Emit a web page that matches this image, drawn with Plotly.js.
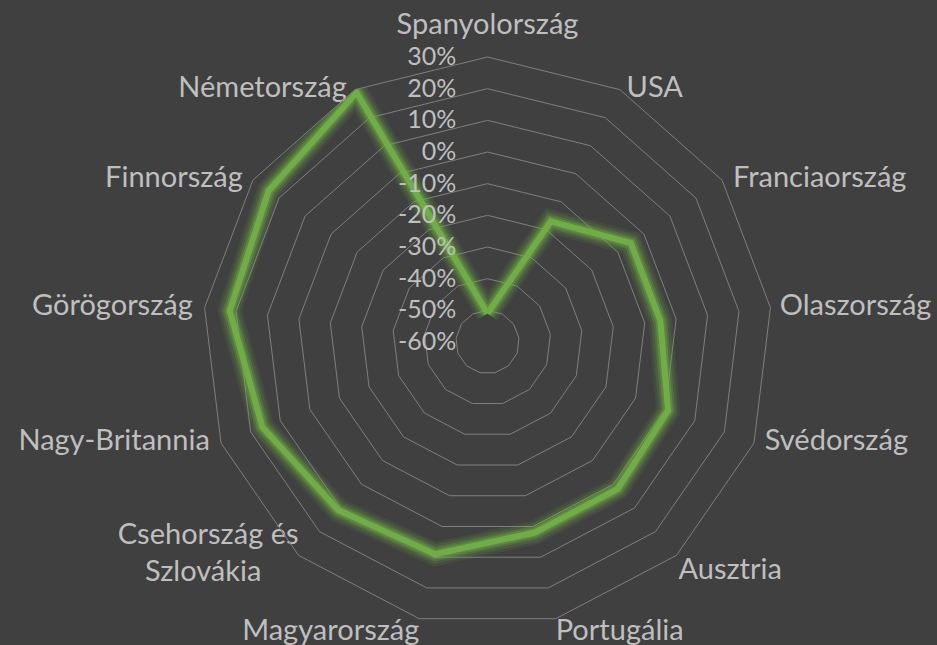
<!DOCTYPE html>
<html>
<head>
<meta charset="utf-8">
<script src="https://cdn.plot.ly/plotly-3.0.1.min.js"></script>
<style>
html,body{margin:0;padding:0;background:#404040;}
#chart{width:937px;height:645px;}
</style>
</head>
<body>
<div id="chart"></div>
<script>
// ---- data ----
const categories = ["Spanyolország","USA","Franciaország","Olaszország","Svédország","Ausztria","Portugália","Magyarország","Csehország és Szlovákia","Nagy-Britannia","Görögország","Finnország","Németország"];
const categoryLabels = ["Spanyolország","USA","Franciaország","Olaszország","Svédország","Ausztria","Portugália","Magyarország","Csehország és<br>Szlovákia\u00a0\u00a0\u00a0\u00a0\u00a0","Nagy-Britannia","Görögország","Finnország","Németország"];
const values = [-0.51,-0.17,-0.05,-0.05,0.01,0.02,0.02,0.09,0.11,0.16,0.22,0.24,0.29];
const radialTicks = [-0.6,-0.5,-0.4,-0.3,-0.2,-0.1,0,0.1,0.2,0.3];
const radialTickLabels = ["-60%","-50%","-40%","-30%","-20%","-10%","0%","10%","20%","30%"];
const rMin = -0.6, rMax = 0.3;

// ---- label placement styling (per category) ----
const labelPos = ['top center','middle right','middle right','middle right','middle right','bottom right','bottom right','bottom left','middle left','middle left','middle left','middle left','middle left'];
const labelGap = [23,9,16,13.4,15.7,1.6,0,0,0,16.3,17.3,14.6,11.7];

const theta = categories.concat([categories[0]]);
const r = values.concat([values[0]]);

const glowLayers = [
  {w:24, c:'rgba(112,173,71,0.10)'},
  {w:19, c:'rgba(112,173,71,0.16)'},
  {w:14, c:'rgba(112,173,71,0.26)'},
  {w:10, c:'rgba(112,173,71,0.38)'}
];
const traces = glowLayers.map(g => ({
  type:'scatterpolar', r:r, theta:theta, mode:'lines',
  line:{color:g.c, width:g.w}, hoverinfo:'skip', showlegend:false
}));
traces.push({
  type:'scatterpolar', r:r, theta:theta, mode:'lines',
  line:{color:'#70ad47', width:6}, showlegend:false
});
// category labels anchored at the outer ring
traces.push({
  type:'scatterpolar', r:categories.map(() => rMax), theta:categories,
  mode:'markers+text', text:categoryLabels, textposition:labelPos,
  marker:{size:labelGap, color:'rgba(0,0,0,0)', line:{width:0}},
  textfont:{family:'Lato, "Open Sans", sans-serif', size:29, color:'#bfbfbf'},
  cliponaxis:false, hoverinfo:'skip', showlegend:false
});

const layout = {
  width:937, height:645,
  paper_bgcolor:'#404040', plot_bgcolor:'#404040',
  margin:{l:38, r:0, t:57, b:18},
  showlegend:false,
  polar:{
    bgcolor:'#404040',
    gridshape:'linear',
    domain:{x:[0,1], y:[0,1]},
    angularaxis:{
      categoryorder:'array', categoryarray:categories,
      rotation:90, direction:'clockwise',
      showgrid:false, showline:true, linecolor:'#7f7f7f', linewidth:1,
      ticks:'', showticklabels:false
    },
    radialaxis:{
      range:[rMin,rMax], tickvals:radialTicks, ticktext:radialTickLabels,
      angle:90, tickangle:90, side:'counterclockwise',
      showline:false, ticks:'outside', ticklen:22, tickcolor:'rgba(0,0,0,0)',
      gridcolor:'#7f7f7f', gridwidth:1,
      tickfont:{family:'Lato, "Open Sans", sans-serif', size:25, color:'#bfbfbf'}
    }
  }
};
Plotly.newPlot('chart', traces, layout, {displayModeBar:false, staticPlot:true}).then(gd => {
  // category-theta points are wrongly culled by the polygon range test; show the label texts again
  gd.querySelectorAll('.scatterlayer .trace:last-child .textpoint').forEach(el => {
    el.style.display = '';
    el.removeAttribute('display');
  });
});
</script>
</body>
</html>
